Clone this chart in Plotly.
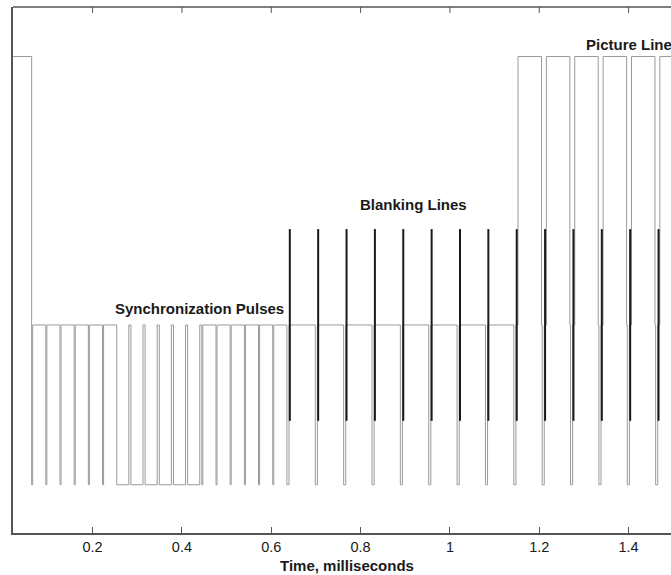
import plotly.graph_objects as go

# ---- data (time in milliseconds) ----
eq_pulse_starts_pre = [0.0635, 0.0953, 0.1270, 0.1588, 0.1905, 0.2223]
broad_pulse_starts = [0.2540, 0.2858, 0.3175, 0.3493, 0.3810, 0.4128]
eq_pulse_starts_post = [0.4445, 0.4763, 0.5080, 0.5398, 0.5715, 0.6033]
blank_line_sync_starts = [0.6350, 0.6985, 0.7620, 0.8255, 0.8890, 0.9525, 1.0160, 1.0795, 1.1430]
picture_line_sync_starts = [1.2065, 1.2700, 1.3335, 1.3970, 1.4605]

# pulse timing (ms)
eq_width = 0.0023
broad_width = 0.0271
hsync_width = 0.0047
front_porch = 0.0015
back_porch_end = 0.0094
burst_offset = 0.0065

# signal levels (arbitrary units)
sync_level = 0.0
blank_level = 1.0
white_level = 2.68
burst_amp = 0.6

x_start, x_end = 0.0218, 1.53

xs, ys = [x_start], [white_level]
cur = [white_level]

def step(t, level):
    xs.extend([t, t])
    ys.extend([cur[0], level])
    cur[0] = level

for t in eq_pulse_starts_pre:
    step(t, sync_level)
    step(t + eq_width, blank_level)
for t in broad_pulse_starts:
    step(t, sync_level)
    step(t + broad_width, blank_level)
for t in eq_pulse_starts_post:
    step(t, sync_level)
    step(t + eq_width, blank_level)
for t in blank_line_sync_starts:
    step(t, sync_level)
    step(t + hsync_width, blank_level)
step(blank_line_sync_starts[-1] + back_porch_end, white_level)
for t in picture_line_sync_starts:
    step(t - front_porch, blank_level)
    step(t, sync_level)
    step(t + hsync_width, blank_level)
    step(t + back_porch_end, white_level)
xs.append(x_end)
ys.append(cur[0])

bx, by = [], []
for t in blank_line_sync_starts + picture_line_sync_starts:
    bx.extend([t + burst_offset, t + burst_offset, None])
    by.extend([blank_level - burst_amp, blank_level + burst_amp, None])

fig = go.Figure()
fig.add_trace(go.Scatter(x=xs, y=ys, mode="lines",
                         line=dict(color="#9a9a9a", width=1), hoverinfo="skip"))
fig.add_trace(go.Scatter(x=bx, y=by, mode="lines",
                         line=dict(color="#1a1a1a", width=2), hoverinfo="skip"))

tick_vals = [0.2, 0.4, 0.6, 0.8, 1.0, 1.2, 1.4]
tick_text = ["0.2", "0.4", "0.6", "0.8", "1", "1.2", "1.4"]

axis_color = "#555"
plot_h = 526
shapes = [dict(type="line", xref="paper", yref="paper", x0=0, x1=1, y0=1, y1=1,
               line=dict(color=axis_color, width=1.5))]
for tv in tick_vals:
    shapes.append(dict(type="line", xref="x", yref="paper", x0=tv, x1=tv,
                       y0=1, y1=1 - 6 / plot_h, line=dict(color=axis_color, width=1)))

fig.update_layout(
    width=671, height=575,
    margin=dict(l=13, r=0, t=7, b=42),
    paper_bgcolor="white", plot_bgcolor="white",
    showlegend=False,
    font=dict(family="Liberation Sans, Arial, sans-serif", color="#1a1a1a"),
    xaxis=dict(range=[0.0218, 1.4949], showgrid=False, zeroline=False,
               showline=True, linecolor=axis_color, linewidth=1.5, mirror=False,
               ticks="inside", ticklen=6, tickcolor=axis_color, tickwidth=1,
               tickvals=tick_vals, ticktext=tick_text,
               tickfont=dict(size=14.5, color="#1a1a1a")),
    yaxis=dict(range=[-0.302, 2.99], showgrid=False, zeroline=False,
               showline=True, linecolor=axis_color, linewidth=1.5,
               showticklabels=False, ticks=""),
    shapes=shapes,
    annotations=[
        dict(text="<b>Time, milliseconds</b>", xref="paper", yref="paper",
             x=(347 - 13) / 658, y=-(565.7 - 533) / plot_h, xanchor="center", yanchor="middle",
             showarrow=False, font=dict(size=15, color="#1a1a1a")),
        dict(text="<b>Synchronization Pulses</b>", xref="x", yref="y",
             x=0.4389, y=1.100, xanchor="center", yanchor="middle",
             showarrow=False, font=dict(size=15, color="#1a1a1a")),
        dict(text="<b>Blanking Lines</b>", xref="x", yref="y",
             x=0.9187, y=1.757, xanchor="center", yanchor="middle",
             showarrow=False, font=dict(size=15, color="#1a1a1a")),
        dict(text="<b>Picture Lines</b>", xref="x", yref="y",
             x=1.3008, y=2.758, xanchor="left", yanchor="middle",
             showarrow=False, font=dict(size=15, color="#1a1a1a")),
    ],
)

fig.write_html("out.html")
